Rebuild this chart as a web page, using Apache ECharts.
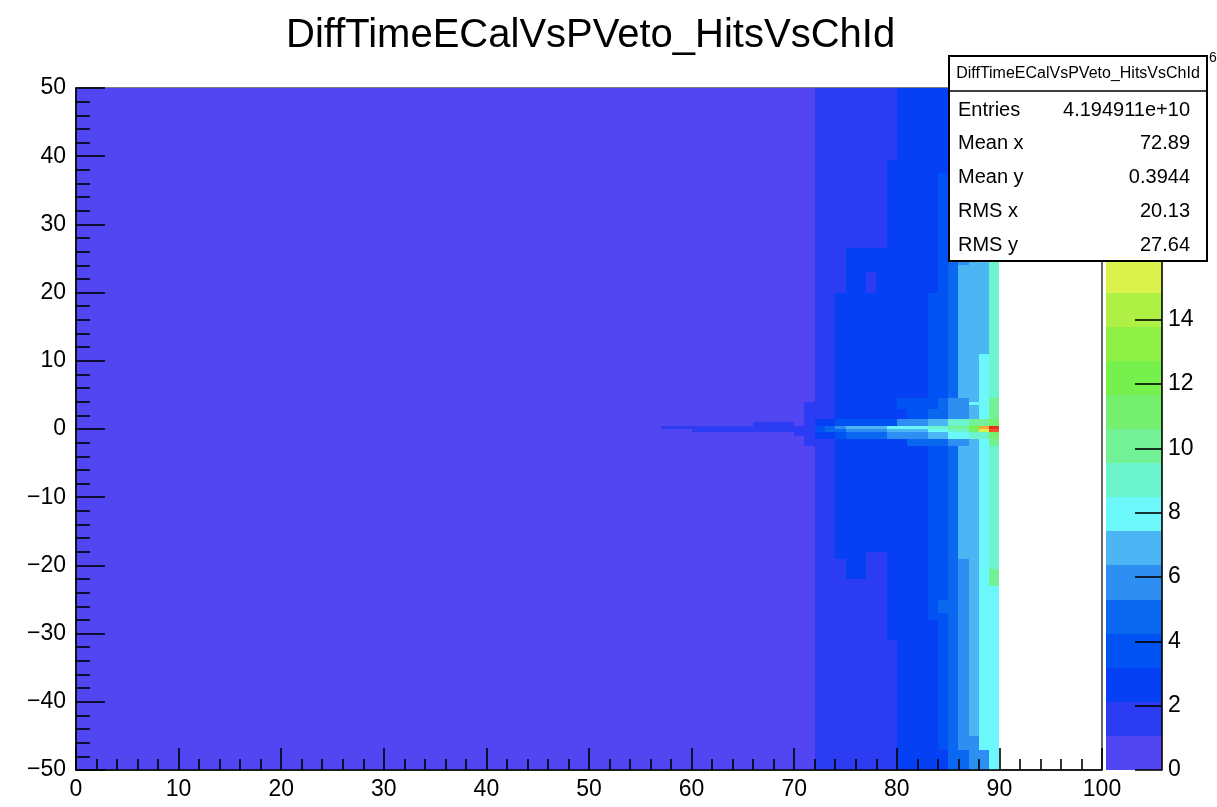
<!DOCTYPE html>
<html>
<head>
<meta charset="utf-8">
<script src="https://cdn.jsdelivr.net/npm/echarts@6/dist/echarts.min.js"></script>
<style>html,body{margin:0;padding:0;background:#fff}#chart{width:1217px;height:807px}</style>
</head>
<body>
<div id="chart"></div>
<script>
// ---------- data ----------
const chartTitle = 'DiffTimeECalVsPVeto_HitsVsChId';
const xRange = [0, 100];          // channel id
const yRange = [-50, 50];         // time difference
const xBinWidth = 1;
const yBinWidth = 0.5;
const zMax = 21.2;                // colour scale maximum (x10^6)
const nLevels = 20;
const zExponent = '6';
const paletteColors = ['#5246f2', '#2b3cf3', '#0640f5', '#0052f2', '#0a68f0', '#2f8ef2', '#4cb6f5', '#6cf8fa',
  '#6cf5cc', '#72f196', '#74f06e', '#76f04c', '#8ef044', '#aef044', '#dcf24c', '#f5d845', '#f5ac38', '#f58030',
  '#f25028', '#e82a20'];
// histogram contents: [chFrom, chTo, tFrom, tTo, content x10^6]
// later entries replace earlier ones for the bins they cover
const histPatches = [
  [0, 57, -50, 50, 0.4],
  [57, 72, -50, 50, 0.6],
  [57, 60, 0, 0.5, 1.5],
  [60, 66, -0.5, 0.5, 1.6],
  [66, 70, -0.5, 1, 1.7],
  [70, 71, -1, 0.5, 1.7],
  [71, 72, -2.5, 4, 1.5],
  [72, 74, -50, 50, 1.6],
  [72, 74, -1.5, 1.5, 2.5],
  [72, 73, -0.5, 0.5, 3.4],
  [73, 74, -0.5, 0.5, 4.6],
  [74, 80, -50, 50, 1.7],
  [74, 75, -19, 20, 2.6],
  [75, 77, -22, 26.5, 2.6],
  [77, 79, -18, 26.5, 2.7],
  [77, 78, 20, 23, 1.9],
  [79, 80, -31, 39.5, 2.7],
  [80, 83, -50, 50, 2.8],
  [83, 84, -50, 50, 2.9],
  [83, 84, -28, 20, 3.5],
  [84, 85, -50, 50, 2.9],
  [84, 85, -47, 37.5, 3.8],
  [84, 85, -27, -25, 4.5],
  [85, 86, -50, 50, 4.4],
  [85, 86, 38, 50, 3.9],
  [86, 87, -50, 50, 5.6],
  [86, 87, -19, 24, 6.6],
  [86, 87, -50, -47, 4.9],
  [87, 88, -50, 50, 6.6],
  [87, 88, -50, -45, 5.9],
  [88, 89, -50, 50, 7.5],
  [88, 89, 11, 50, 6.8],
  [88, 89, -50, -47, 6.2],
  [89, 90, -50, 50, 8.2],
  [89, 90, -22, 50, 8.7],
  [89, 90, -23, -20.5, 9.8],
  [74, 80, 0.5, 1.5, 3.6],
  [80, 83, 0.5, 1.5, 5.4],
  [83, 85, 0.5, 1.5, 6.6],
  [85, 87, 0.5, 1.5, 8.6],
  [87, 88, 0.5, 1.5, 10.0],
  [88, 89, 0.5, 1.5, 9.8],
  [89, 90, 0.5, 1.5, 11.5],
  [74, 75, -1.5, -0.5, 3.8],
  [75, 79, -1.5, -0.5, 5.2],
  [79, 83, -1.5, -0.5, 5.9],
  [83, 85, -1.5, -0.5, 6.9],
  [85, 87, -1.5, -0.5, 8.0],
  [87, 88, -1.5, -0.5, 9.0],
  [88, 89, -1.5, -0.5, 8.6],
  [89, 90, -1.5, -0.5, 11.4],
  [81, 85, -2.5, -1.5, 4.3],
  [85, 87, -2.5, -1.5, 5.8],
  [87, 88, -2.5, -1.5, 6.9],
  [88, 89, -2.5, -1.5, 7.9],
  [89, 90, -2.5, -1.5, 10.0],
  [81, 83, 1.5, 3, 3.6],
  [83, 85, 1.5, 3, 4.3],
  [85, 87, 1.5, 3, 5.8],
  [87, 88, 1.5, 3, 7.0],
  [88, 89, 1.5, 3, 8.0],
  [89, 90, 1.5, 3, 9.6],
  [80, 84, 3, 4.5, 3.5],
  [84, 85, 3, 4.5, 4.6],
  [85, 86, 3, 4.5, 5.6],
  [86, 87, 3, 4.5, 6.3],
  [87, 88, 3.5, 4, 7.8],
  [89, 90, 3, 4.5, 10.4],
  [74, 75, 0, 0.5, 5.8],
  [75, 79, 0, 0.5, 6.9],
  [79, 81, 0, 0.5, 7.9],
  [81, 83, 0, 0.5, 8.3],
  [83, 85, 0, 0.5, 9.3],
  [85, 87, 0, 0.5, 10.4],
  [87, 88, 0, 0.5, 12.5],
  [88, 89, 0, 0.5, 17.3],
  [89, 90, 0, 0.5, 21.2],
  [74, 75, -0.5, 0, 5.0],
  [75, 79, -0.5, 0, 6.0],
  [79, 83, -0.5, 0, 7.0],
  [83, 85, -0.5, 0, 8.2],
  [85, 87, -0.5, 0, 9.2],
  [87, 88, -0.5, 0, 10.8],
  [88, 89, -0.5, 0, 15.5],
  [89, 90, -0.5, 0, 19.8]
];
const statTitle = 'DiffTimeECalVsPVeto_HitsVsChId';
const statLabels = ['Entries', 'Mean x', 'Mean y', 'RMS x', 'RMS y'];
const statValues = ['4.194911e+10', '72.89', '0.3944', '20.13', '27.64'];

// ---------- build bin table ----------
const nx = Math.round((xRange[1] - xRange[0]) / xBinWidth);
const ny = Math.round((yRange[1] - yRange[0]) / yBinWidth);
const cells = Array.from({length: nx}, () => new Array(ny).fill(null));
histPatches.forEach(([x0, x1, y0, y1, z]) => {
  const ix0 = Math.round((x0 - xRange[0]) / xBinWidth), ix1 = Math.round((x1 - xRange[0]) / xBinWidth);
  const iy0 = Math.round((y0 - yRange[0]) / yBinWidth), iy1 = Math.round((y1 - yRange[0]) / yBinWidth);
  for (let ix = ix0; ix < ix1; ix++) for (let iy = iy0; iy < iy1; iy++) cells[ix][iy] = z;
});
// merge vertically adjacent equal bins of a channel into runs
const runs = [];
for (let ix = 0; ix < nx; ix++) {
  let start = 0;
  for (let iy = 1; iy <= ny; iy++) {
    if (iy === ny || cells[ix][iy] !== cells[ix][start]) {
      if (cells[ix][start] !== null) {
        runs.push([xRange[0] + ix * xBinWidth, xRange[0] + (ix + 1) * xBinWidth,
                   yRange[0] + start * yBinWidth, yRange[0] + iy * yBinWidth, cells[ix][start]]);
      }
      start = iy;
    }
  }
}
const levelEdges = Array.from({length: nLevels + 1}, (_, i) => i * zMax / nLevels);
const pieces = paletteColors.map((c, i) => i < nLevels - 1
  ? {gte: levelEdges[i], lt: levelEdges[i + 1], color: c}
  : {gte: levelEdges[i], color: c});
const paletteBands = paletteColors.map((c, i) => [0, 1, levelEdges[i], levelEdges[i + 1], i]);

function rectItem(api, fill) {
  const p0 = api.coord([api.value(0), api.value(3)]);
  const p1 = api.coord([api.value(1), api.value(2)]);
  const x = Math.round(p0[0]), y = Math.round(p0[1]);
  return {type: 'rect', shape: {x: x, y: y, width: Math.round(p1[0]) - x, height: Math.round(p1[1]) - y},
          style: {fill: fill}};
}

const FONT = 'Liberation Sans';
const black = {color: '#000', width: 1.6};

// ---------- stats box ----------
const boxL = 949, boxT = 56, boxW = 258, boxH = 205;
const graphics = [
  {type: 'rect', z: 100, shape: {x: boxL, y: boxT, width: boxW, height: boxH},
   style: {fill: '#fff', stroke: '#000', lineWidth: 2}},
  {type: 'line', z: 101, shape: {x1: boxL, y1: boxT + 35, x2: boxL + boxW, y2: boxT + 35},
   style: {stroke: '#000', lineWidth: 1.5}},
  {type: 'text', z: 101, x: boxL + boxW / 2, y: boxT + 18,
   style: {text: statTitle, fontSize: 16, fontFamily: FONT, fill: '#000', align: 'center', verticalAlign: 'middle'}},
  {type: 'text', z: 99, x: 1209, y: 51,
   style: {text: zExponent, fontSize: 14, fontFamily: FONT, fill: '#000', align: 'left', verticalAlign: 'top'}}
];
statLabels.forEach((lab, i) => {
  const yy = 110 + i * 33.8;
  graphics.push({type: 'text', z: 101, x: 958, y: yy,
    style: {text: lab, fontSize: 20, fontFamily: FONT, fill: '#000', align: 'left', verticalAlign: 'middle'}});
  graphics.push({type: 'text', z: 101, x: 1190, y: yy,
    style: {text: statValues[i], fontSize: 20, fontFamily: FONT, fill: '#000', align: 'right', verticalAlign: 'middle'}});
});

const chart = echarts.init(document.getElementById('chart'), null, {renderer: 'canvas'});
chart.setOption({
  animation: false,
  backgroundColor: '#fff',
  textStyle: {fontFamily: FONT},
  title: {text: chartTitle, left: 281, top: 11,
          textStyle: {fontSize: 40, fontWeight: 'normal', color: '#000', fontFamily: FONT}},
  grid: [
    {left: 76, top: 88, width: 1026, height: 682, show: true, borderColor: '#000', borderWidth: 1.2,
     backgroundColor: 'transparent'},
    {left: 1106, top: 88, width: 56, height: 682}
  ],
  xAxis: [
    {gridIndex: 0, type: 'value', min: xRange[0], max: xRange[1], interval: 10, z: 10,
     axisLine: {show: true, onZero: false, lineStyle: black},
     axisTick: {show: true, inside: true, length: 22, lineStyle: black},
     minorTick: {show: true, splitNumber: 5, length: 11, lineStyle: black},
     splitLine: {show: false},
     axisLabel: {color: '#000', fontSize: 23, margin: 8, fontFamily: FONT}},
    {gridIndex: 1, type: 'value', min: 0, max: 1, show: false}
  ],
  yAxis: [
    {gridIndex: 0, type: 'value', min: yRange[0], max: yRange[1], interval: 10, z: 10,
     axisLine: {show: true, onZero: false, lineStyle: black},
     axisTick: {show: true, inside: true, length: 29, lineStyle: black},
     minorTick: {show: true, splitNumber: 5, length: 14, lineStyle: black},
     splitLine: {show: false},
     axisLabel: {color: '#000', fontSize: 23, margin: 10, fontFamily: FONT,
                 formatter: v => String(v).replace('-', '\u2212')}},
    {gridIndex: 1, type: 'value', min: 0, max: zMax, interval: 2, position: 'right', z: 10,
     axisLine: {show: true, onZero: false, lineStyle: black},
     axisTick: {show: true, inside: true, length: 27, lineStyle: black},
     splitLine: {show: false},
     axisLabel: {color: '#000', fontSize: 23, margin: 6, fontFamily: FONT, showMaxLabel: false,
                 formatter: v => (Math.abs(v % 2) < 1e-9 ? String(v) : '')}}
  ],
  visualMap: {type: 'piecewise', show: false, seriesIndex: 0, dimension: 4, pieces: pieces},
  series: [
    {type: 'custom', xAxisIndex: 0, yAxisIndex: 0, silent: true, data: runs,
     encode: {x: [0, 1], y: [2, 3]},
     renderItem: (params, api) => rectItem(api, api.visual('color'))},
    {type: 'custom', xAxisIndex: 1, yAxisIndex: 1, silent: true, data: paletteBands,
     encode: {x: [0, 1], y: [2, 3]},
     renderItem: (params, api) => rectItem(api, paletteColors[api.value(4)])}
  ],
  graphic: graphics
});
</script>
</body>
</html>
